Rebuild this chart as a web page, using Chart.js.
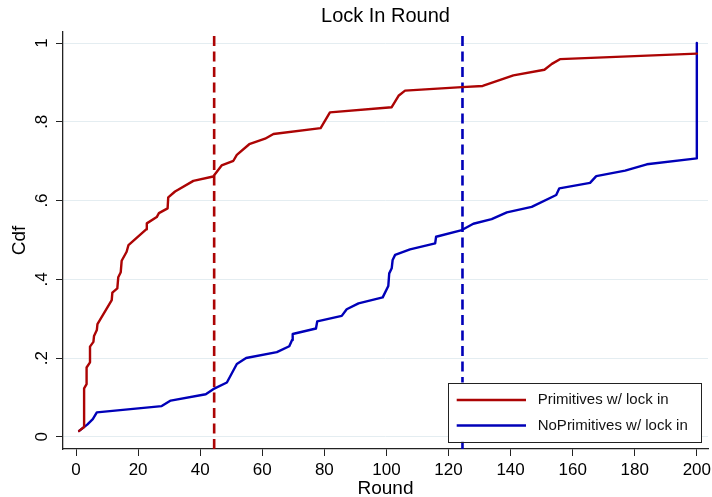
<!DOCTYPE html>
<html><head><meta charset="utf-8">
<script src="https://cdn.jsdelivr.net/npm/chart.js@4/dist/chart.umd.min.js"></script>
<style>html,body{margin:0;padding:0;background:#fff;}canvas{display:block;}</style>
</head><body>
<canvas id="c" width="712" height="497"></canvas>
<script>
// ---- data ----
const chartTitle = 'Lock In Round';
const xAxisTitle = 'Round';
const yAxisTitle = 'Cdf';
const seriesLabels = ['Primitives w/ lock in', 'NoPrimitives w/ lock in'];
const xTicks = [0, 20, 40, 60, 80, 100, 120, 140, 160, 180, 200];
const yTicks = [0, 0.2, 0.4, 0.6, 0.8, 1];
const yTickLabels = ['0', '.2', '.4', '.6', '.8', '1'];

const primX = [1, 2.6, 2.6, 3.4, 3.4, 4.5, 4.5, 5.6, 5.8, 6.7, 6.9, 11.5, 11.7, 13.3, 13.6, 14.4, 14.7, 16.3, 16.9,
  22.6, 22.8, 26.0, 26.7, 29.5, 29.7, 31.9, 37.8, 44.2, 46.9, 50.7, 51.8, 55.8, 60.9, 63.6, 78.8, 81.8,
  101.7, 103.9, 106.0, 124.3, 131.0, 140.9, 150.9, 153.3, 155.9, 200];
const primY = [0.015, 0.025, 0.123, 0.134, 0.176, 0.189, 0.229, 0.241, 0.256, 0.271, 0.286, 0.347, 0.366, 0.377, 0.405, 0.418, 0.447, 0.470, 0.487,
  0.527, 0.542, 0.558, 0.568, 0.580, 0.608, 0.623, 0.650, 0.661, 0.689, 0.701, 0.716, 0.743, 0.757, 0.769, 0.784, 0.824,
  0.837, 0.866, 0.879, 0.888, 0.891, 0.918, 0.932, 0.947, 0.959, 0.973];

const noPrimX = [1, 3.6, 5.4, 6.7, 27.6, 30.5, 41.8, 44.2, 48.6, 51.8, 54.8, 64.7, 68.7, 69.6, 69.8, 77.3, 77.7, 85.6, 87.2,
  91.0, 98.8, 100.6, 100.9, 101.7, 102.0, 102.8, 107.6, 115.7, 116.0, 124.3, 128.0, 133.9, 138.8, 146.8, 154.7, 155.7,
  165.6, 167.6, 176.9, 183.9, 200, 200];
const noPrimY = [0.015, 0.031, 0.045, 0.062, 0.078, 0.092, 0.108, 0.121, 0.138, 0.185, 0.200, 0.215, 0.230, 0.246, 0.261, 0.275, 0.293, 0.307, 0.324,
  0.339, 0.354, 0.383, 0.415, 0.428, 0.449, 0.462, 0.476, 0.491, 0.508, 0.525, 0.541, 0.553, 0.570, 0.584, 0.614, 0.631,
  0.645, 0.662, 0.676, 0.692, 0.707, 1.0];

const medians = [44.5, 124.5];
const medianSpan = [-0.031, 1.022];

// ---- styles ----
const FONT = "'Liberation Sans', Arial, Helvetica, sans-serif";
const RED = 'rgb(172,4,4)';
const BLUE = 'rgb(0,0,184)';
const colors = [RED, BLUE];

const toPts = (xs, ys) => xs.map((x, i) => ({x: x, y: ys[i]}));

const datasets = [
  {label: seriesLabels[0], data: toPts(primX, primY), borderColor: RED},
  {label: seriesLabels[1], data: toPts(noPrimX, noPrimY), borderColor: BLUE}
].map(d => Object.assign(d, {borderWidth: 2.4, pointRadius: 0, tension: 0, fill: false, borderJoinStyle: 'round', borderCapStyle: 'round'}));

medians.forEach((m, i) => {
  datasets.push({
    label: 'median' + i,
    data: [{x: m, y: medianSpan[0]}, {x: m, y: medianSpan[1]}],
    borderColor: colors[i], borderWidth: 2.6, borderDash: [10, 5.5], pointRadius: 0, fill: false
  });
});

const legendPlugin = {
  id: 'boxLegend',
  afterDraw(chart) {
    const ctx = chart.ctx, ca = chart.chartArea;
    const bx = ca.right - 259.7, by = ca.bottom - 66.5, bw = 253.4, bh = 59.3;
    ctx.save();
    ctx.fillStyle = '#fff';
    ctx.fillRect(bx, by, bw, bh);
    ctx.strokeStyle = '#222';
    ctx.lineWidth = 1;
    ctx.strokeRect(Math.round(bx) + 0.5, Math.round(by) + 0.5, Math.round(bw), Math.round(bh));
    ctx.font = '15px ' + FONT;
    ctx.textBaseline = 'middle';
    ctx.textAlign = 'left';
    seriesLabels.forEach((lab, i) => {
      const y = by + 17.5 + i * 25.5;
      ctx.strokeStyle = colors[i];
      ctx.lineWidth = 2.6;
      ctx.beginPath();
      ctx.moveTo(bx + 8.4, y);
      ctx.lineTo(bx + 77.7, y);
      ctx.stroke();
      ctx.fillStyle = '#111';
      ctx.fillText(lab, bx + 89.4, y);
    });
    ctx.restore();
  }
};

new Chart(document.getElementById('c'), {
  type: 'line',
  data: {datasets: datasets},
  options: {
    responsive: false,
    animation: false,
    devicePixelRatio: 1,
    layout: {padding: {left: 0, right: 4, top: 0, bottom: 0}},
    plugins: {
      legend: {display: false},
      tooltip: {enabled: false},
      title: {
        display: true, text: chartTitle, fullSize: false, color: '#000',
        font: {family: FONT, size: 20, weight: 'normal', lineHeight: 1.2},
        padding: {top: 4, bottom: 4}
      }
    },
    scales: {
      x: {
        type: 'linear', min: -4.2, max: 203.6,
        afterBuildTicks: s => { s.ticks = xTicks.map(v => ({value: v})); },
        afterFit: s => { s.height = 48; s.paddingLeft = 0; s.paddingRight = 0; },
        grid: {drawOnChartArea: false, drawTicks: true, tickLength: 7, tickColor: '#222', tickWidth: 1},
        border: {color: '#222', width: 1.3},
        ticks: {color: '#000', font: {family: FONT, size: 17}, padding: 4, maxRotation: 0, autoSkip: false},
        title: {display: true, text: xAxisTitle, color: '#000', font: {family: FONT, size: 19, lineHeight: 0.8}, padding: {top: 0, bottom: 1}}
      },
      y: {
        type: 'linear', min: -0.031, max: 1.028,
        afterBuildTicks: s => { s.ticks = yTicks.map(v => ({value: v})); },
        afterFit: s => { s.width = 63; s.paddingTop = 0; s.paddingBottom = 0; },
        grid: {drawOnChartArea: true, color: '#e4edf1', lineWidth: 1, drawTicks: true, tickLength: 7, tickColor: '#222', tickWidth: 1},
        border: {color: '#222', width: 1.3},
        ticks: {
          color: '#000', font: {family: FONT, size: 17}, padding: 7, minRotation: 90, maxRotation: 90,
          crossAlign: 'center', autoSkip: false,
          callback: (v) => { const i = yTicks.findIndex(t => Math.abs(t - v) < 1e-9); return i >= 0 ? yTickLabels[i] : ''; }
        },
        title: {display: true, text: yAxisTitle, color: '#000', font: {family: FONT, size: 19, lineHeight: 1.2}, padding: {top: 8, bottom: 0}}
      }
    }
  },
  plugins: [legendPlugin]
});
</script>
</body></html>
